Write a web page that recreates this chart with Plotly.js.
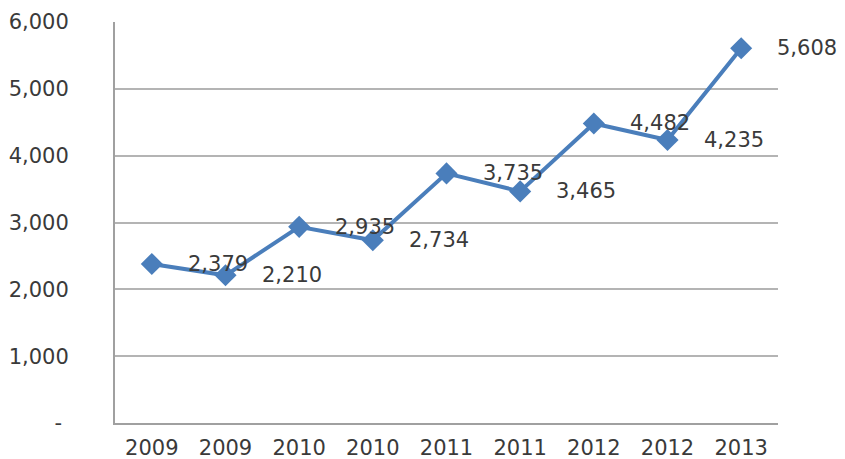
<!DOCTYPE html>
<html>
<head>
<meta charset="utf-8">
<script src="https://cdn.plot.ly/plotly-3.0.1.min.js"></script>
<style>html,body{margin:0;padding:0;background:#fff;}#chart{width:845px;height:459px;}</style>
</head>
<body>
<div id="chart"></div>
<script>
const categories = ["2009", "2009", "2010", "2010", "2011", "2011", "2012", "2012", "2013"];
const values = [2379, 2210, 2935, 2734, 3735, 3465, 4482, 4235, 5608];
const yTickVals = [0, 1000, 2000, 3000, 4000, 5000, 6000];
const yTickText = ["- ", "1,000", "2,000", "3,000", "4,000", "5,000", "6,000"];

const xIdx = categories.map((c, i) => i);
const fmt = v => v.toLocaleString("en-US");
const textColor = "#3a3a3a";
const font = {family: "DejaVu Sans, Verdana, sans-serif", size: 21, color: textColor};

const trace = {
  x: xIdx,
  y: values,
  type: "scatter",
  mode: "lines+markers",
  line: {color: "#4a7ebb", width: 4},
  marker: {symbol: "diamond", size: 17, color: "#4a7ebb"},
  hoverinfo: "skip"
};

const annotations = values.map((v, i) => ({
  x: i, y: v, xref: "x", yref: "y",
  text: fmt(v), showarrow: false,
  xanchor: "left", yanchor: "middle",
  xshift: 34, yshift: 0,
  font: font
}));

const layout = {
  width: 845, height: 459,
  margin: {l: 115, r: 67, t: 22, b: 36},
  paper_bgcolor: "#ffffff", plot_bgcolor: "#ffffff",
  showlegend: false,
  font: font,
  xaxis: {
    range: [-0.5, 8.5],
    tickvals: xIdx, ticktext: categories,
    showgrid: false, zeroline: false,
    showline: true, linecolor: "#a0a0a0", linewidth: 2,
    ticks: "", ticklabelstandoff: 5,
    tickfont: font, fixedrange: true
  },
  yaxis: {
    range: [0, 6000],
    tickvals: yTickVals, ticktext: yTickText,
    showgrid: true, gridcolor: "#b4b4b4", gridwidth: 2,
    zeroline: false,
    showline: true, linecolor: "#a0a0a0", linewidth: 2,
    ticks: "", ticklabelstandoff: 40,
    tickfont: font, fixedrange: true
  },
  annotations: annotations
};

Plotly.newPlot("chart", [trace], layout, {displayModeBar: false, staticPlot: true});
</script>
</body>
</html>
